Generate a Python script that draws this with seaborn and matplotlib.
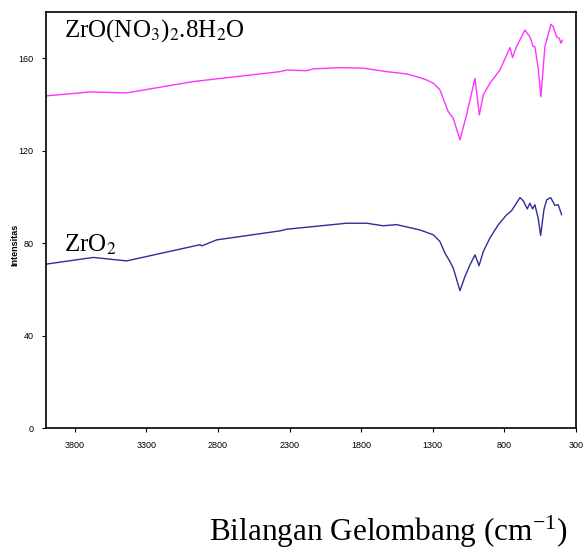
import numpy as np
import pandas as pd
import seaborn as sns
import matplotlib
matplotlib.use("Agg")
import matplotlib.pyplot as plt

# Wavenumbers (cm^-1) and intensities
wn_nitrate = [4000, 3693, 3437, 2972, 2366, 2320, 2180, 2134, 1948, 1785, 1622, 1482,
              1390, 1343, 1296, 1250, 1192, 1157, 1110, 1064, 1005, 975, 947, 901,
              831, 761, 743, 715, 657, 622, 599, 587, 564, 545, 517, 475, 459, 436,
              417, 405, 394]
int_nitrate = [143.7, 145.4, 145.0, 149.9, 154.2, 154.9, 154.6, 155.4, 155.9, 155.7,
               154.2, 153.2, 151.6, 150.6, 149.2, 146.3, 136.9, 134.0, 124.7, 135.5,
               151.3, 135.5, 144.1, 149.2, 154.9, 164.6, 160.3, 165.0, 172.2, 169.3,
               165.0, 165.0, 155.7, 143.4, 165.0, 174.7, 173.7, 169.3, 168.6, 166.5,
               167.9]

wn_oxide = [4000, 3670, 3437, 2925, 2913, 2808, 2366, 2320, 1902, 1762, 1646, 1553,
            1390, 1296, 1250, 1215, 1180, 1157, 1110, 1075, 1040, 1005, 977, 947, 901,
            843, 785, 750, 691, 668, 640, 622, 603, 587, 564, 547, 524, 505, 477,
            447, 424, 400]
int_oxide = [70.9, 73.8, 72.3, 79.3, 78.8, 81.4, 85.3, 86.0, 88.6, 88.6, 87.5, 88.0,
             85.7, 83.6, 80.7, 75.7, 72.0, 69.2, 59.4, 65.6, 70.6, 74.9, 70.2, 76.4,
             82.2, 87.9, 92.2, 94.0, 99.7, 98.3, 94.8, 97.3, 94.8, 96.6, 90.8, 83.3,
             94.4, 98.7, 99.7, 96.3, 96.6, 92.2]

x_ticks = [3800, 3300, 2800, 2300, 1800, 1300, 800, 300]
y_ticks = [0, 40, 80, 120, 160]

df = pd.concat([
    pd.DataFrame({"wn": wn_nitrate, "I": int_nitrate, "s": "nitrate"}),
    pd.DataFrame({"wn": wn_oxide, "I": int_oxide, "s": "oxide"}),
])

sns.set_theme(style="white")
plt.rcParams["font.family"] = ["Liberation Sans", "DejaVu Sans"]
plt.rcParams["mathtext.fontset"] = "stix"
plt.rcParams["text.color"] = "black"
plt.rcParams["xtick.color"] = "black"
plt.rcParams["ytick.color"] = "black"

fig = plt.figure(figsize=(5.83, 5.5), dpi=100)
ax = fig.add_axes([46/583, 1-428/550, 530/583, 416/550])
sns.lineplot(data=df, x="wn", y="I", hue="s", palette={"nitrate": "#FF33FF", "oxide": "#2E2E96"},
             linewidth=1.0, legend=False, ax=ax, sort=False, estimator=None)
ax.set_xlim(4000, 300)
ax.set_ylim(0, 180)
ax.set_xticks(x_ticks)
ax.set_yticks(y_ticks)
ax.tick_params(axis="both", labelsize=6.5, direction="out", length=3, width=0.8,
               bottom=True, left=True, colors="black", pad=6)
for sp in ax.spines.values():
    sp.set_color("black")
    sp.set_linewidth(1.2)
ax.set_xlabel("")
ax.set_ylabel("")

serif = ["Liberation Serif", "DejaVu Serif"]
ax.text(3874, 169.3, r"ZrO(NO$_3$)$_2$.8H$_2$O", fontsize=18, family=serif,
        ha="left", va="baseline", color="black")
ax.text(3874, 76.4, r"ZrO$_2$", fontsize=18, family=serif,
        ha="left", va="baseline", color="black")

fig.text(15/583, 1-245/550, "Intensitas", rotation=90, fontsize=6.5, fontweight="bold",
         ha="center", va="center", color="black")
fig.text(389/583, 1-532/550, r"Bilangan Gelombang (cm$^{\mathregular{-1}}$)", fontsize=22.5,
         family=serif, ha="center", va="center", color="black")

fig.savefig("out.png", dpi=100)
